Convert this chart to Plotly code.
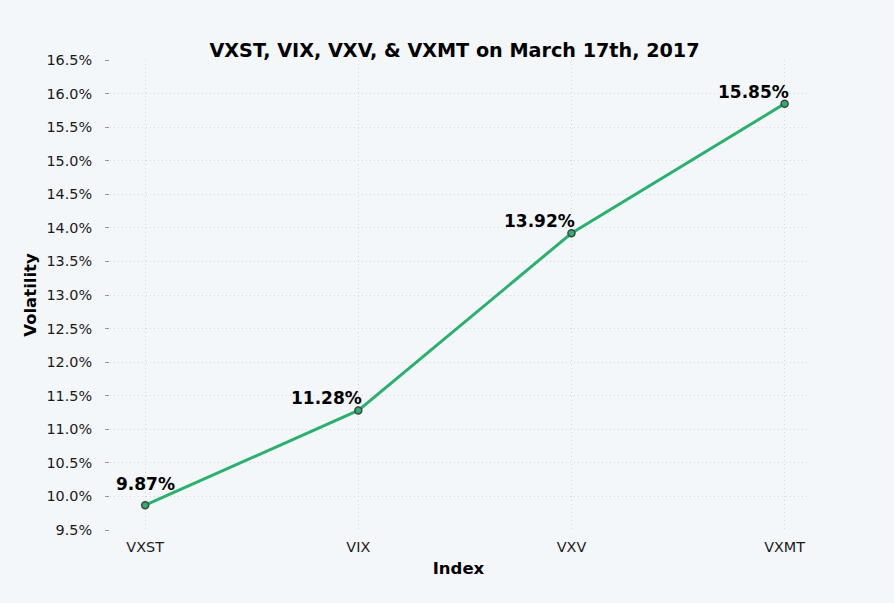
import plotly.graph_objects as go

indices = ["VXST", "VIX", "VXV", "VXMT"]
volatility = [9.87, 11.28, 13.92, 15.85]
y_ticks = [9.5, 10.0, 10.5, 11.0, 11.5, 12.0, 12.5, 13.0, 13.5, 14.0, 14.5, 15.0, 15.5, 16.0, 16.5]

BG = "#f4f7fa"
GREEN = "#2bb06e"
GRID = "#d3d8dd"
FONT = "DejaVu Sans"

fig = go.Figure()
fig.add_trace(go.Scatter(
    x=indices,
    y=volatility,
    mode="lines+markers",
    line=dict(color=GREEN, width=3),
    marker=dict(size=7, color=GREEN, line=dict(color="#444444", width=1.5)),
    hoverinfo="x+y",
))

# value labels, first one centered, the rest sit up-left of the point
for i, (name, val) in enumerate(zip(indices, volatility)):
    first = i == 0
    fig.add_annotation(
        x=name, y=val,
        text=f"<b>{val:.2f}%</b>",
        showarrow=False,
        xanchor="center" if first else "right",
        yanchor="bottom",
        xshift=0 if first else 6,
        yshift=9 if first else 0,
        font=dict(family=FONT, size=17, color="#000000"),
    )

fig.update_layout(
    width=894,
    height=603,
    paper_bgcolor=BG,
    plot_bgcolor=BG,
    font=dict(family=FONT, size=14.4, color="#1a1a1a"),
    margin=dict(l=110, r=87, t=60, b=73),
    showlegend=False,
    title=dict(
        text="<b>VXST, VIX, VXV, & VXMT on March 17th, 2017</b>",
        x=0.5084, xanchor="center",
        y=0.905, yanchor="bottom",
        font=dict(family=FONT, size=19.2, color="#000000"),
    ),
)

fig.update_xaxes(
    range=[-0.165, 3.105],
    title=dict(text="<b>Index</b>", font=dict(size=16.5, color="#000000"), standoff=8),
    showgrid=True,
    gridcolor=GRID,
    griddash="1px,3px",
    gridwidth=1,
    showline=False,
    zeroline=False,
    ticks="",
    ticklabelstandoff=7,
)

fig.update_yaxes(
    range=[9.5, 16.5],
    tickvals=y_ticks,
    ticktext=[f"{v:.1f}%" for v in y_ticks],
    title=dict(text="<b>Volatility</b>", font=dict(size=16.5, color="#000000"), standoff=5),
    showgrid=True,
    gridcolor=GRID,
    griddash="1px,3px",
    gridwidth=1,
    showline=False,
    zeroline=False,
    ticks="outside",
    ticklen=4,
    tickcolor="#9a9a9a",
    ticklabelstandoff=10,
)

# drop the default page margin so the figure fills the window
fig.write_html(
    "out.html",
    config={"displayModeBar": False},
    post_script="document.body.style.margin='0';",
)
